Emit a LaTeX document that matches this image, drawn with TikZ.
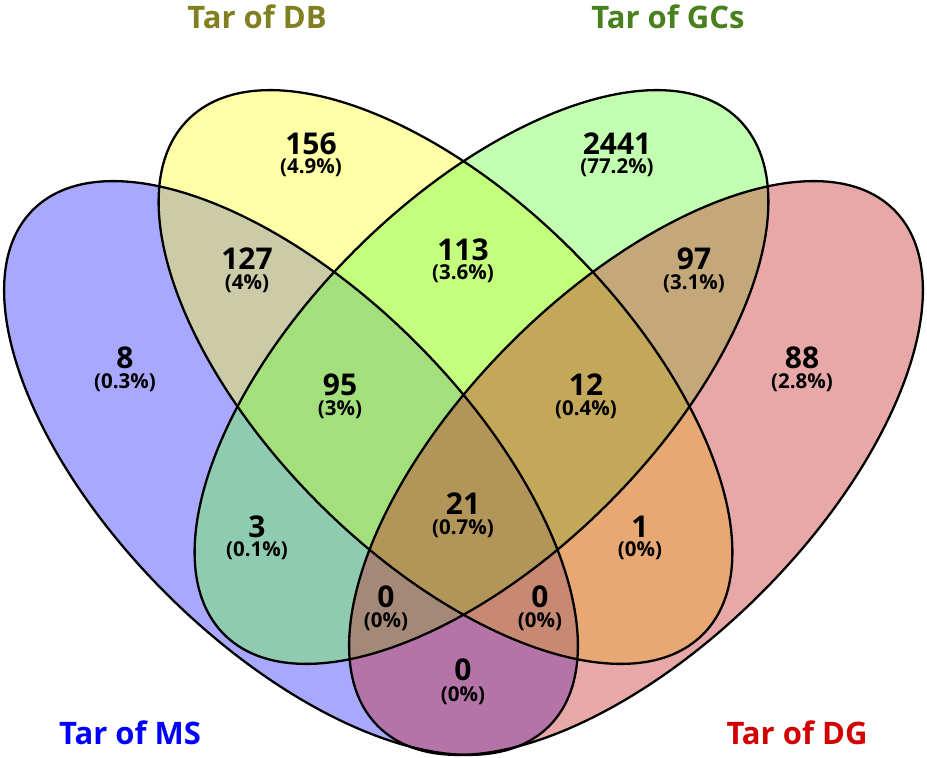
\documentclass[tikz,border=0pt]{standalone}
\usepackage{fontspec}
\setmainfont{Open Sans}
\definecolor{cMS}{RGB}{38,38,255}
\definecolor{cDB}{RGB}{255,255,38}
\definecolor{cGC}{RGB}{105,255,58}
\definecolor{cDG}{RGB}{197,38,38}
\definecolor{tDB}{RGB}{128,128,32}
\definecolor{tGC}{RGB}{72,128,30}
\definecolor{tMS}{RGB}{0,0,255}
\definecolor{tDG}{RGB}{210,0,0}
\tikzset{
  setfill/.style={fill=#1, fill opacity=0.4},
  setline/.style={draw=black, line width=2.3pt},
  num/.style={inner sep=0pt, font=\bfseries\fontsize{30}{30}\selectfont},
  pct/.style={inner sep=0pt, font=\bfseries\fontsize{20.5}{21}\selectfont},
  ttl/.style={inner sep=0pt, font=\bfseries\fontsize{31}{31}\selectfont, text=#1}
}
\begin{document}
\begin{tikzpicture}[x=1pt,y=-1pt]
\useasboundingbox (0,0) rectangle (927,758);
% fills (order: MS, DB, GC, DG)
\fill[setfill=cMS, shift={(291,468)}, rotate=-45] (0,0) ellipse [x radius=365, y radius=177];
\fill[setfill=cDB, shift={(445.5,377)}, rotate=-45] (0,0) ellipse [x radius=364, y radius=179];
\fill[setfill=cGC, shift={(481.5,377)}, rotate=45] (0,0) ellipse [x radius=364, y radius=179];
\fill[setfill=cDG, shift={(636,468)}, rotate=45] (0,0) ellipse [x radius=365, y radius=177];
% outlines
\draw[setline, shift={(291,468)}, rotate=-45] (0,0) ellipse [x radius=365, y radius=177];
\draw[setline, shift={(445.5,377)}, rotate=-45] (0,0) ellipse [x radius=364, y radius=179];
\draw[setline, shift={(481.5,377)}, rotate=45] (0,0) ellipse [x radius=364, y radius=179];
\draw[setline, shift={(636,468)}, rotate=45] (0,0) ellipse [x radius=365, y radius=177];
% titles
\node[ttl=tDB] (tdb) at (257,17) {Tar of DB};
\node[ttl=tGC] (tgc) at (668,17) {Tar of GCs};
\node[ttl=tMS] (tms) at (130,733) {Tar of MS};
\node[ttl=tDG] (tdg) at (797,733) {Tar of DG};
% counts
\node[num] (n156) at (311,144) {156};   \node[pct] (p156) at (311,168) {(4.9\%)};
\node[num] (n2441) at (617,144) {2441}; \node[pct] (p2441) at (617,168) {(77.2\%)};
\node[num] (n127) at (247,259) {127};   \node[pct] (p127) at (247,284) {(4\%)};
\node[num] (n113) at (463,250) {113};   \node[pct] (p113) at (463,274) {(3.6\%)};
\node[num] (n97) at (694,259) {97};     \node[pct] (p97) at (694,284) {(3.1\%)};
\node[num] (n8) at (125,358) {8};       \node[pct] (p8) at (125,383) {(0.3\%)};
\node[num] (n95) at (340,385) {95};     \node[pct] (p95) at (340,410) {(3\%)};
\node[num] (n12) at (586,385) {12};     \node[pct] (p12) at (586,410) {(0.4\%)};
\node[num] (n88) at (802,358) {88};     \node[pct] (p88) at (802,383) {(2.8\%)};
\node[num] (n21) at (463,504) {21};     \node[pct] (p21) at (463,529) {(0.7\%)};
\node[num] (n3) at (257,527) {3};       \node[pct] (p3) at (257,551) {(0.1\%)};
\node[num] (n1) at (640,527) {1};       \node[pct] (p1) at (640,551) {(0\%)};
\node[num] (n0l) at (386,597) {0};      \node[pct] (p0l) at (386,622) {(0\%)};
\node[num] (n0r) at (540,597) {0};      \node[pct] (p0r) at (540,622) {(0\%)};
\node[num] (n0b) at (463,670) {0};      \node[pct] (p0b) at (463,696) {(0\%)};
\end{tikzpicture}
\end{document}
